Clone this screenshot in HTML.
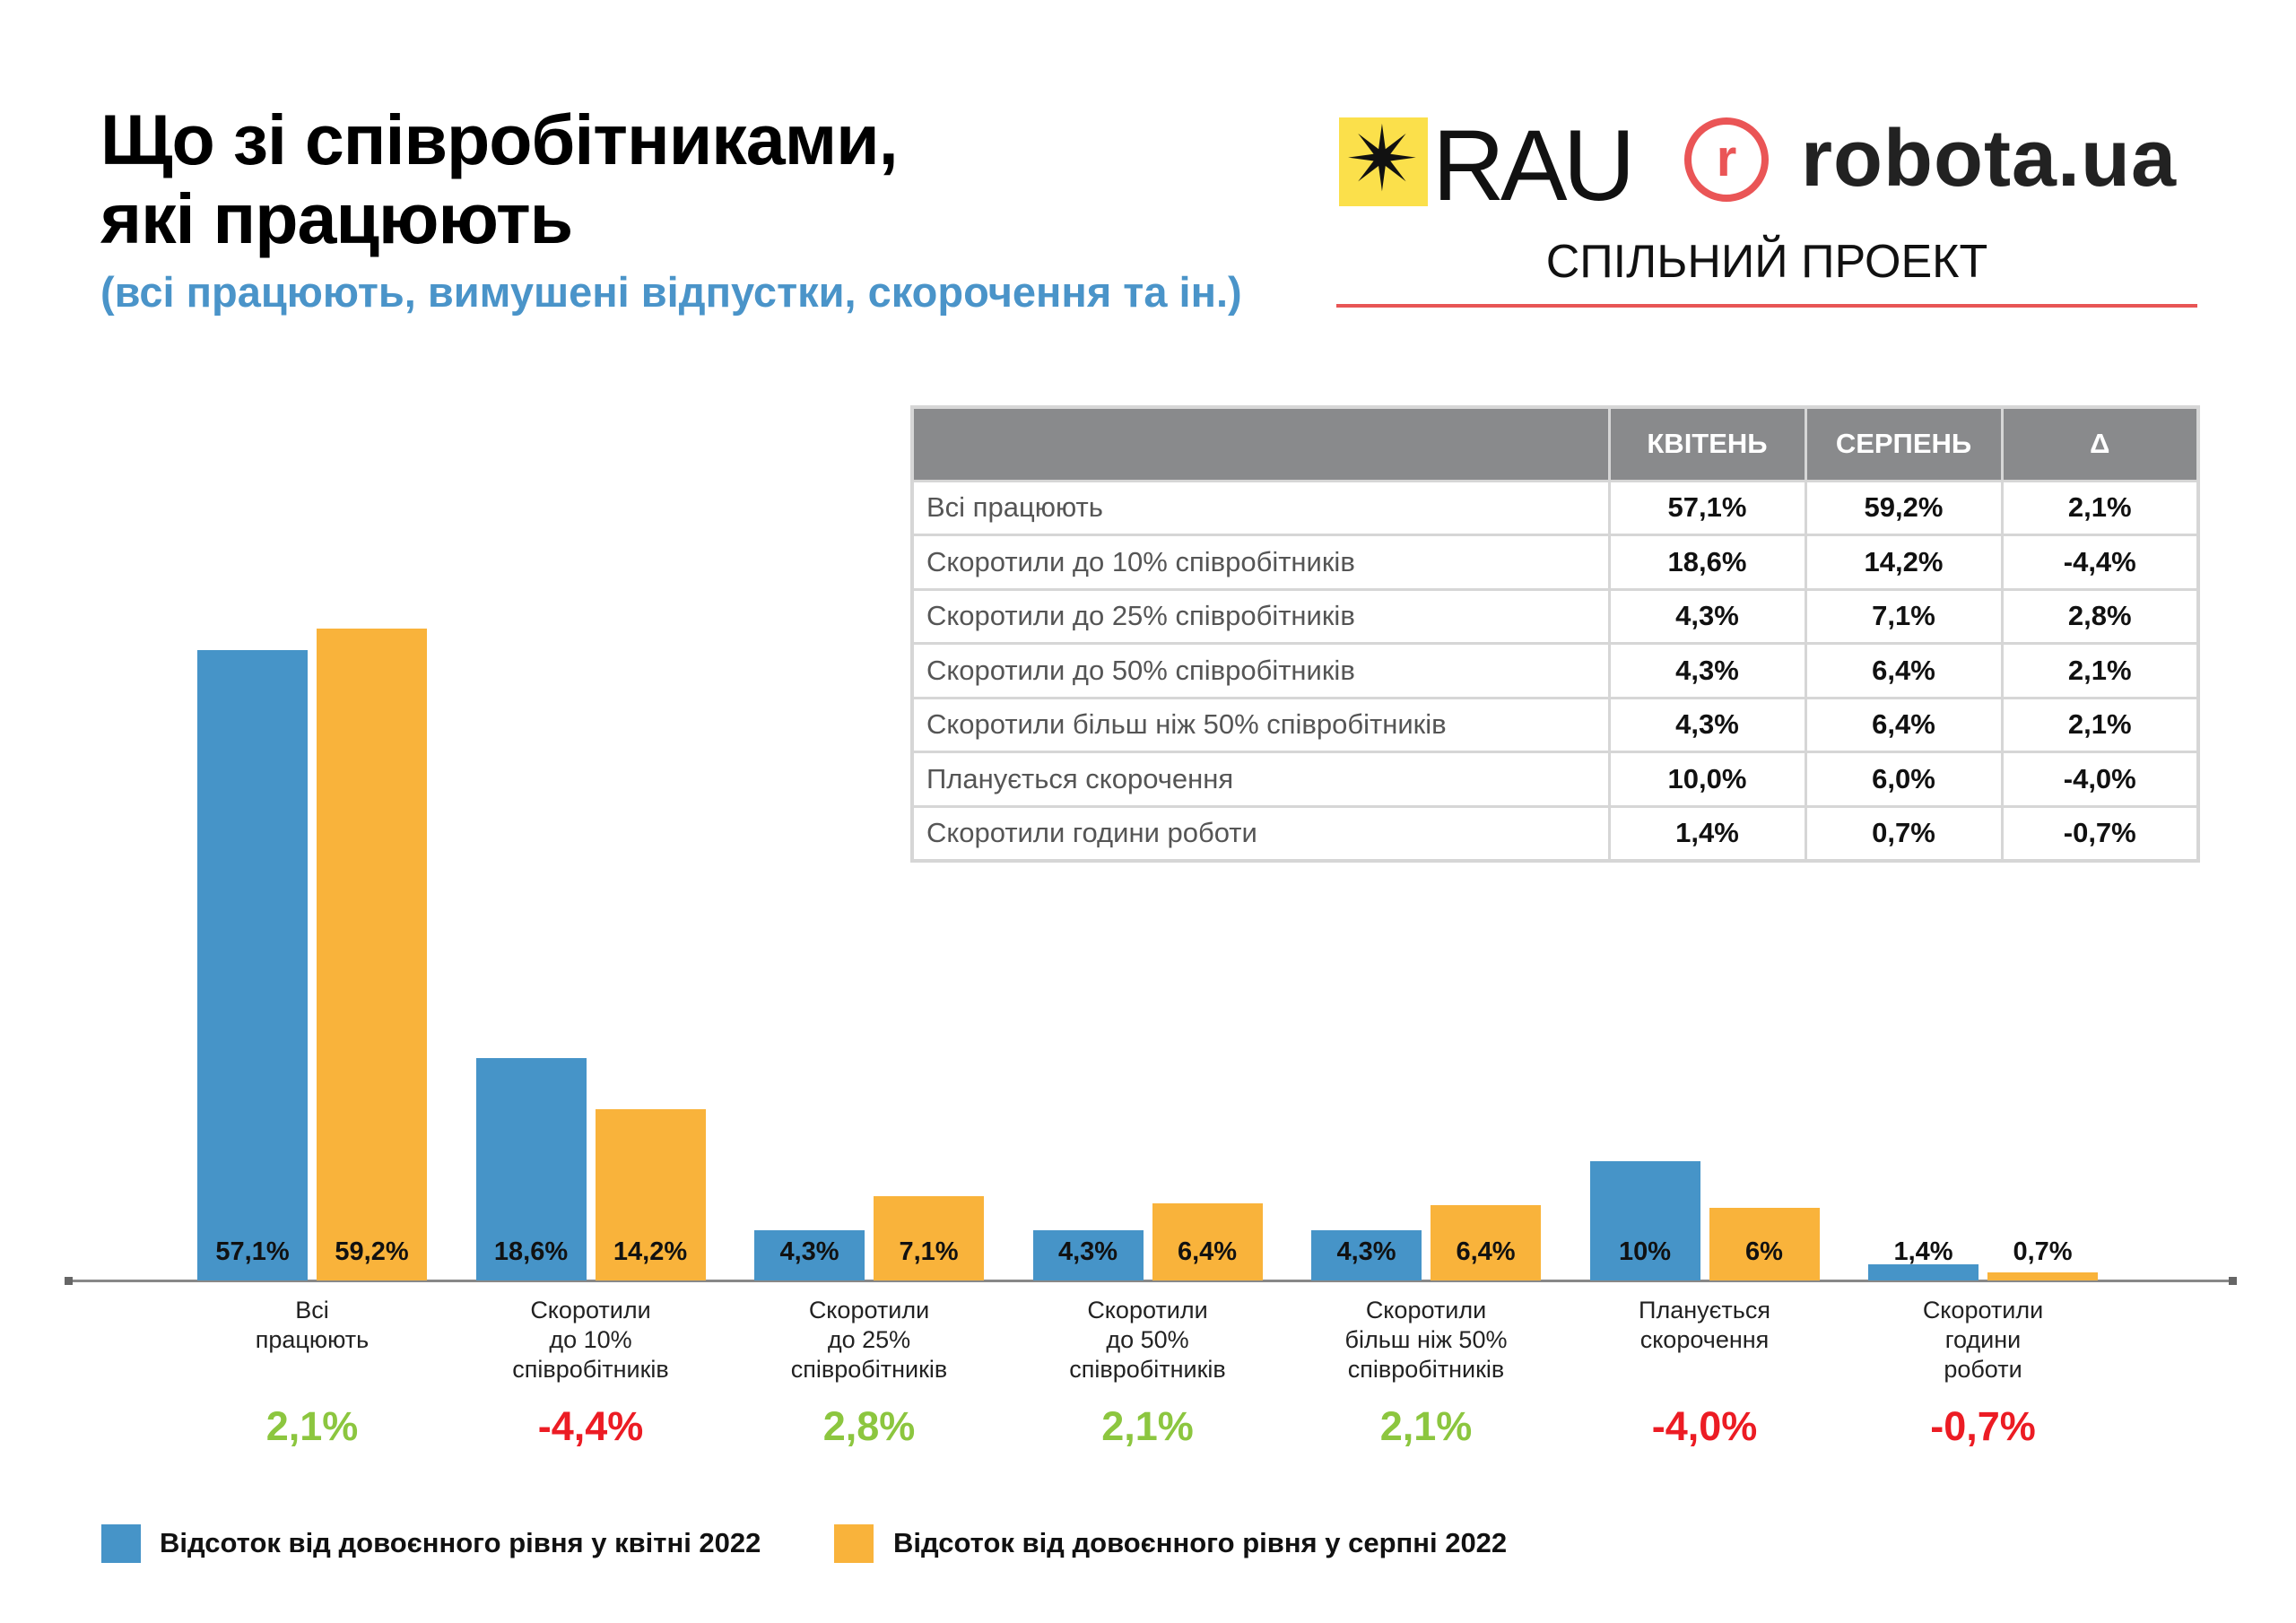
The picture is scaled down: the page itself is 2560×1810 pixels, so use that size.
<!DOCTYPE html>
<html><head><meta charset="utf-8"><style>
*{margin:0;padding:0;box-sizing:border-box}
body{width:2560px;height:1810px;background:#fff;position:relative;overflow:hidden;font-family:"Liberation Sans","DejaVu Sans",sans-serif}
.a{position:absolute}
.t{font-weight:bold;font-size:79px;color:#000;left:112px;letter-spacing:-1px}
.sub{left:112px;top:298px;font-size:47px;font-weight:bold;color:#4a94c9}
table{position:absolute;left:1015px;top:452px;width:1438px;border-collapse:collapse;border:4px solid #d6d6d6}
td,th{border:3px solid #d6d6d6;height:60.5px;font-size:31px}
th{background:#898a8c;color:#fff;height:82px;font-weight:bold}
td{color:#555;padding-left:14px}
td.n{color:#111;font-weight:bold;text-align:center;padding:0;width:219px}
.bar{position:absolute;width:123px}
.b{background:#4694c8}.o{background:#f9b33b}
.v{position:absolute;width:123px;text-align:center;font-size:29px;font-weight:bold;color:#111;top:1380px}
.c{position:absolute;width:280px;text-align:center;font-size:27px;line-height:33px;color:#222;top:1445px}
.d{position:absolute;width:280px;text-align:center;font-size:45px;font-weight:bold;top:1565px}
.g{color:#8cc63f}.r{color:#ec1c24}
.lg{position:absolute;font-size:31px;font-weight:bold;color:#111;top:1703px}
</style></head><body>
<div class="a t" style="top:110px">Що зі співробітниками,</div>
<div class="a t" style="top:198px">які працюють</div>
<div class="a sub">(всі працюють, вимушені відпустки, скорочення та ін.)</div>

<div class="a" style="left:1493px;top:131px;width:99px;height:99px;background:#fbe04b"></div>
<div class="a" style="left:1500px;top:128px;font-size:100px;line-height:100px;color:#111">✴</div>
<div class="a" style="left:1597px;top:120px;font-size:112px;color:#111;letter-spacing:-5px">RAU</div>
<div class="a" style="left:1878px;top:131px;width:94px;height:94px;border:8px solid #ea5556;border-radius:50%;color:#ea5556;font-size:58px;font-weight:bold;text-align:center;line-height:76px">r</div>
<div class="a" style="left:2008px;top:126px;font-size:90px;font-weight:bold;color:#222;letter-spacing:1px">robota.ua</div>
<div class="a" style="left:1490px;top:262px;width:960px;text-align:center;font-size:52px;color:#111">СПІЛЬНИЙ ПРОЕКТ</div>
<div class="a" style="left:1490px;top:339px;width:960px;height:4px;background:#e85555"></div>

<table>
<tr><th></th><th>КВІТЕНЬ</th><th>СЕРПЕНЬ</th><th>Δ</th></tr>
<tr><td>Всі працюють</td><td class="n">57,1%</td><td class="n">59,2%</td><td class="n">2,1%</td></tr>
<tr><td>Скоротили до 10% співробітників</td><td class="n">18,6%</td><td class="n">14,2%</td><td class="n">-4,4%</td></tr>
<tr><td>Скоротили до 25% співробітників</td><td class="n">4,3%</td><td class="n">7,1%</td><td class="n">2,8%</td></tr>
<tr><td>Скоротили до 50% співробітників</td><td class="n">4,3%</td><td class="n">6,4%</td><td class="n">2,1%</td></tr>
<tr><td>Скоротили більш ніж 50% співробітників</td><td class="n">4,3%</td><td class="n">6,4%</td><td class="n">2,1%</td></tr>
<tr><td>Планується скорочення</td><td class="n">10,0%</td><td class="n">6,0%</td><td class="n">-4,0%</td></tr>
<tr><td>Скоротили години роботи</td><td class="n">1,4%</td><td class="n">0,7%</td><td class="n">-0,7%</td></tr>
</table>

<div class="a" style="left:75px;top:1427px;width:2416px;height:3px;background:#888"></div>
<div class="a" style="left:72px;top:1424px;width:9px;height:9px;background:#666"></div>
<div class="a" style="left:2485px;top:1424px;width:9px;height:9px;background:#666"></div>

<div id="ch"></div>
<script>
var d=[[725,701,"57,1%","59,2%","Всі<br>працюють","2,1%","g"],
[1180,1237,"18,6%","14,2%","Скоротили<br>до 10%<br>співробітників","-4,4%","r"],
[1372,1334,"4,3%","7,1%","Скоротили<br>до 25%<br>співробітників","2,8%","g"],
[1372,1342,"4,3%","6,4%","Скоротили<br>до 50%<br>співробітників","2,1%","g"],
[1372,1344,"4,3%","6,4%","Скоротили<br>більш ніж 50%<br>співробітників","2,1%","g"],
[1295,1347,"10%","6%","Планується<br>скорочення","-4,0%","r"],
[1410,1419,"1,4%","0,7%","Скоротили<br>години<br>роботи","-0,7%","r"]];
var h="",base=1428;
d.forEach(function(e,i){var x=220+i*310.5;
h+='<div class="bar b" style="left:'+x+'px;top:'+e[0]+'px;height:'+(base-e[0])+'px"></div>';
h+='<div class="bar o" style="left:'+(x+133)+'px;top:'+e[1]+'px;height:'+(base-e[1])+'px"></div>';
h+='<div class="v" style="left:'+x+'px">'+e[2]+'</div>';
h+='<div class="v" style="left:'+(x+133)+'px">'+e[3]+'</div>';
h+='<div class="c" style="left:'+(x+128-140)+'px">'+e[4]+'</div>';
h+='<div class="d '+e[6]+'" style="left:'+(x+128-140)+'px">'+e[5]+'</div>';});
document.getElementById("ch").innerHTML=h;
</script>

<div class="a" style="left:113px;top:1700px;width:44px;height:43px;background:#4694c8"></div>
<div class="lg" style="left:178px">Відсоток від довоєнного рівня у квітні 2022</div>
<div class="a" style="left:930px;top:1700px;width:44px;height:43px;background:#f9b33b"></div>
<div class="lg" style="left:996px">Відсоток від довоєнного рівня у серпні 2022</div>
</body></html>
